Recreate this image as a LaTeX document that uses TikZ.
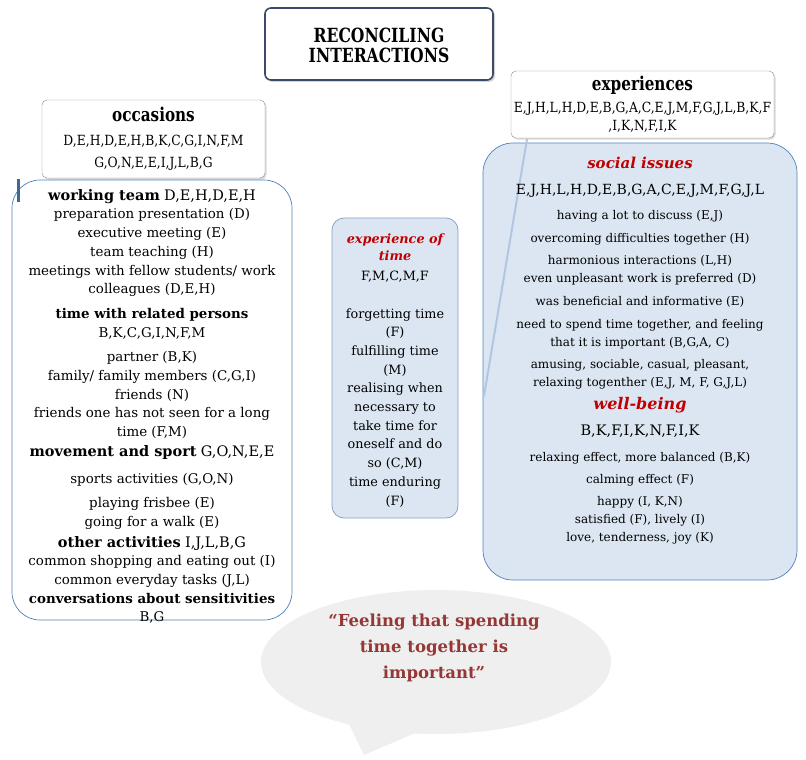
\documentclass[tikz,border=0pt]{standalone}
\usepackage{fontspec}
\setmainfont{DejaVu Serif}
\newfontfamily\condfont[FakeStretch=0.8]{DejaVu Serif}
\newfontfamily\semicondfont[FakeStretch=0.88]{DejaVu Serif}
\usetikzlibrary{positioning,shapes.geometric,shadows}

\definecolor{titleblue}{HTML}{3A4A6A}
\definecolor{boxblue}{HTML}{4F81BD}
\definecolor{paleblue}{HTML}{DCE6F2}
\definecolor{softblue}{HTML}{7F9CC6}
\definecolor{issuered}{HTML}{C00000}
\definecolor{quotered}{HTML}{953735}
\definecolor{bubblegray}{HTML}{EFEFEF}

\newcommand{\headfont}{\fontsize{14.5}{18}\selectfont}
\newcommand{\redhead}[2]{{\fontsize{#1}{18}\selectfont\bfseries\itshape\color{issuered}#2}}

\begin{document}
\begin{tikzpicture}[x=1pt,y=-1pt,
  titlebox/.style={rectangle, draw=titleblue, line width=1.6pt, rounded corners=6pt,
                   fill=white, minimum width=228pt, minimum height=72pt, align=center,
                   font=\condfont\fontsize{19.5}{20}\selectfont\bfseries,
                   drop shadow={shadow xshift=2pt, shadow yshift=-2pt, opacity=.35}},
  topbox/.style={rectangle, draw=black!45, rounded corners=5pt, fill=white,
                 align=center, inner sep=2pt,
                 drop shadow={shadow xshift=1.5pt, shadow yshift=-1.5pt, opacity=.3}},
  groupbox/.style={rectangle, draw=boxblue, line width=0.7pt, inner sep=0pt},
  listtext/.style={align=center, inner sep=0pt, text=black},
  link/.style={line width=2pt, draw=boxblue!45},
  bubble/.style={ellipse, fill=bubblegray, minimum width=350pt, minimum height=144pt}
]
  \useasboundingbox (0,0) rectangle (806,760);

  % upper boxes
  \node[titlebox] (title) at (379,44) {};
  \node[listtext, font=\condfont\fontsize{19.5}{20}\selectfont\bfseries] (titletext)
    at (379,45) {RECONCILING\\INTERACTIONS};
  \node[topbox, minimum width=223pt, minimum height=78pt,
        font=\semicondfont\fontsize{14}{22}\selectfont] (occ) at (153.5,139)
    {{\condfont\fontsize{19}{20}\selectfont\bfseries occasions}\\[2pt]
     D,E,H,D,E,H,B,K,C,G,I,N,F,M\\
     G,O,N,E,E,I,J,L,B,G};
  \node[topbox, minimum width=263pt, minimum height=67pt,
        font=\semicondfont\fontsize{14}{18}\selectfont] (exp) at (642.5,104.5)
    {{\condfont\fontsize{19}{20}\selectfont\bfseries experiences}\\[4pt]
     E,J,H,L,H,D,E,B,G,A,C,E,J,M,F,G,J,L,B,K,F\\
     ,I,K,N,F,I,K};

  % group boxes
  \node[groupbox, fill=white, rounded corners=28pt, minimum width=280pt,
        minimum height=440pt] (occbox) at (152,400) {};
  \node[groupbox, fill=paleblue, draw=softblue, rounded corners=12pt,
        minimum width=126pt, minimum height=300pt] (timebox) at (395,368) {};
  \node[groupbox, fill=paleblue, rounded corners=30pt, minimum width=314pt,
        minimum height=437pt] (expbox) at (640,361.5) {};

  \coordinate (occfoot) at (18,179);
  \coordinate (occleft) at (18,202);
  \draw[line width=3pt, boxblue!80!black] (occfoot) -- (occleft);
  \coordinate (expfoot) at (527,139);
  \coordinate (issuefoot) at (484,396);
  \draw[link] (expfoot) -- (issuefoot);

  \node[listtext, anchor=north, font=\fontsize{13.4}{18.7}\selectfont] (occtext) at (152,189) {%
    {\headfont\bfseries working team} {\headfont D,E,H,D,E,H}\\
    preparation presentation (D)\\
    executive meeting (E)\\
    team teaching (H)\\
    meetings with fellow students/ work\\
    colleagues (D,E,H)\\[6pt]
    \textbf{time with related persons}\\
    B,K,C,G,I,N,F,M\\[6pt]
    partner (B,K)\\
    family/ family members (C,G,I)\\
    friends (N)\\
    friends one has not seen for a long\\
    time (F,M)\\[1pt]
    {\headfont\bfseries movement and sport} {\headfont G,O,N,E,E}\\[8pt]
    sports activities (G,O,N)\\[6pt]
    playing frisbee (E)\\
    going for a walk (E)\\[2pt]
    {\headfont\bfseries other activities} {\headfont I,J,L,B,G}\\
    common shopping and eating out (I)\\
    common everyday tasks (J,L)\\
    \textbf{conversations about sensitivities}\\
    B,G};

  \node[listtext, anchor=north, font=\fontsize{12.8}{18.7}\selectfont] (timetext) at (395,234) {%
    {\bfseries\itshape\color{issuered} experience of}\\[-2.5pt]
    {\bfseries\itshape\color{issuered} time}\\[1.5pt]
    F,M,C,M,F\\[19pt]
    forgetting time\\
    (F)\\
    fulfilling time\\
    (M)\\
    realising when\\
    necessary to\\
    take time for\\
    oneself and do\\
    so (C,M)\\
    time enduring\\
    (F)};

  \node[listtext, anchor=north, font=\fontsize{12}{18}\selectfont] (issuetext) at (640,156.5) {%
    \redhead{15}{social issues}\\[8pt]
    {\fontsize{14}{18}\selectfont E,J,H,L,H,D,E,B,G,A,C,E,J,M,F,G,J,L}\\[7pt]
    having a lot to discuss (E,J)\\[5pt]
    overcoming difficulties together (H)\\[4pt]
    harmonious interactions (L,H)\\
    even unpleasant work is preferred (D)\\[5pt]
    was beneficial and informative (E)\\[5pt]
    need to spend time together, and feeling\\
    that it is important (B,G,A, C)\\[4pt]
    amusing, sociable, casual, pleasant,\\
    relaxing togenther (E,J, M, F, G,J,L)\\[5pt]
    \redhead{16}{well-being}\\[8pt]
    {\fontsize{14.5}{18}\selectfont B,K,F,I,K,N,F,I,K}\\[8pt]
    relaxing effect, more balanced (B,K)\\[4pt]
    calming effect (F)\\[4pt]
    happy (I, K,N)\\
    satisfied (F), lively (I)\\
    love, tenderness, joy (K)};

  % quote
  \node[bubble] (quote) at (436,662) {};
  \coordinate (tailleft) at (348,722);
  \coordinate (tailtip) at (364,755);
  \coordinate (tailright) at (420,731);
  \fill[bubblegray] (tailleft) -- (tailtip) -- (tailright) -- cycle;
  \node[listtext, text=quotered, font=\fontsize{16.5}{26}\selectfont\bfseries] (quotetext) at (434,648)
    {“Feeling that spending\\time together is\\important”};
\end{tikzpicture}
\end{document}
